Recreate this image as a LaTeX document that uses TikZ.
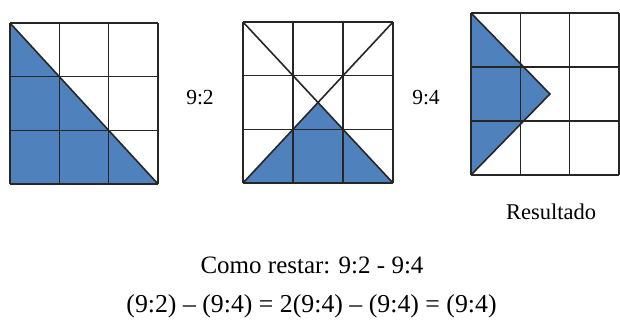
\documentclass[tikz,border=0pt]{standalone}
\usepackage{fontspec}
\setmainfont{Liberation Serif}
\definecolor{cellblue}{RGB}{79,129,189}
\begin{document}
\begin{tikzpicture}[x=1pt,y=-1pt,
  gridline/.style={line width=1.6pt,draw=black!85},
  shade/.style={fill=cellblue},
  lbl/.style={font=\fontsize{21.5pt}{24pt}\selectfont,inner sep=0pt},
  eqn/.style={font=\fontsize{25.8pt}{28pt}\selectfont,inner sep=0pt}]
\useasboundingbox (0,0) rectangle (620,320);
\newcommand\mygrid{%
  \foreach \k in {0,1,2,3}{\draw[gridline] (\k,0) -- (\k,3); \draw[gridline] (0,\k) -- (3,\k);}}
% grid 1
\begin{scope}[shift={(10,23)},x=49.33pt,y=-53.67pt]
  \fill[shade] (0,0) -- (3,3) -- (0,3) -- cycle;
  \mygrid
  \draw[gridline] (0,0) -- (3,3);
\end{scope}
% grid 2
\begin{scope}[shift={(243,22)},x=50pt,y=-53.67pt]
  \fill[shade] (0,3) -- (1.5,1.5) -- (3,3) -- cycle;
  \mygrid
  \draw[gridline] (0,0) -- (3,3) (3,0) -- (0,3);
\end{scope}
% grid 3
\begin{scope}[shift={(471,13)},x=49.33pt,y=-54pt]
  \fill[shade] (0,0) -- (1.6,1.5) -- (0,3) -- cycle;
  \mygrid
  \draw[gridline] (0,0) -- (1.6,1.5) -- (0,3);
\end{scope}
\node[lbl] (r1) at (200,98) {9:2};
\node[lbl] (r2) at (426,98) {9:4};
\node[lbl,font=\fontsize{22.5pt}{26pt}\selectfont] (res) at (551,212) {Resultado};
\node[eqn,font=\fontsize{25pt}{28pt}\selectfont] (t1) at (312,265) {Como restar: 9:2 - 9:4};
\node[eqn] (t2) at (311.5,306) {(9:2) – (9:4) = 2(9:4) – (9:4) = (9:4)};
\end{tikzpicture}
\end{document}
